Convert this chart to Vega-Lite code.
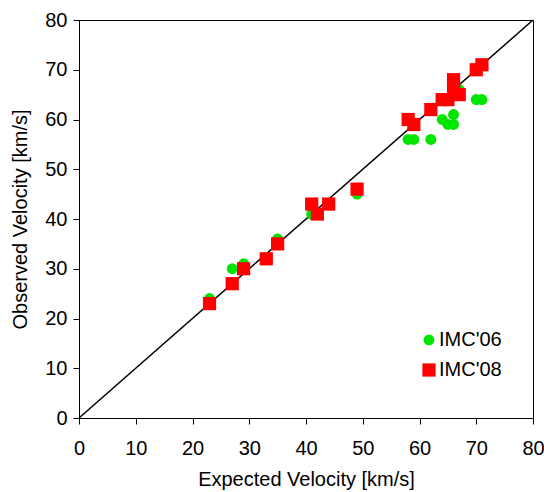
{
  "$schema": "https://vega.github.io/schema/vega-lite/v6.json",
  "width": 454,
  "height": 398,
  "autosize": {"type": "none"},
  "padding": {"left": 79, "top": 20, "right": 11, "bottom": 74},
  "background": "white",
  "config": {
    "view": {"stroke": "black", "strokeWidth": 1},
    "font": "Liberation Sans",
    "axis": {
      "grid": false,
      "domainColor": "black",
      "tickColor": "black",
      "tickSize": 6,
      "labelFontSize": 20,
      "labelColor": "black",
      "titleFontSize": 20,
      "titleFontWeight": "normal",
      "titleColor": "black",
      "labelFont": "Liberation Sans",
      "titleFont": "Liberation Sans",
      "labelFlush": false,
      "labelOverlap": false
    },
    "legend": {"labelFont": "Liberation Sans"}
  },
  "datasets": {
    "pts": [
      {"series": "IMC'06", "expected": 23, "observed": 24},
      {"series": "IMC'06", "expected": 27, "observed": 30},
      {"series": "IMC'06", "expected": 29, "observed": 31},
      {"series": "IMC'06", "expected": 35, "observed": 36},
      {"series": "IMC'06", "expected": 41, "observed": 41},
      {"series": "IMC'06", "expected": 49, "observed": 45},
      {"series": "IMC'06", "expected": 58, "observed": 56},
      {"series": "IMC'06", "expected": 59, "observed": 56},
      {"series": "IMC'06", "expected": 62, "observed": 56},
      {"series": "IMC'06", "expected": 64, "observed": 60},
      {"series": "IMC'06", "expected": 65, "observed": 59},
      {"series": "IMC'06", "expected": 66, "observed": 59},
      {"series": "IMC'06", "expected": 66, "observed": 61},
      {"series": "IMC'06", "expected": 67, "observed": 66},
      {"series": "IMC'06", "expected": 70, "observed": 64},
      {"series": "IMC'06", "expected": 71, "observed": 64},
      {"series": "IMC'08", "expected": 23, "observed": 23},
      {"series": "IMC'08", "expected": 27, "observed": 27},
      {"series": "IMC'08", "expected": 29, "observed": 30},
      {"series": "IMC'08", "expected": 33, "observed": 32},
      {"series": "IMC'08", "expected": 35, "observed": 35},
      {"series": "IMC'08", "expected": 41, "observed": 43},
      {"series": "IMC'08", "expected": 42, "observed": 41},
      {"series": "IMC'08", "expected": 44, "observed": 43},
      {"series": "IMC'08", "expected": 49, "observed": 46},
      {"series": "IMC'08", "expected": 58, "observed": 60},
      {"series": "IMC'08", "expected": 59, "observed": 59},
      {"series": "IMC'08", "expected": 62, "observed": 62},
      {"series": "IMC'08", "expected": 64, "observed": 64},
      {"series": "IMC'08", "expected": 65, "observed": 64},
      {"series": "IMC'08", "expected": 66, "observed": 66},
      {"series": "IMC'08", "expected": 66, "observed": 68},
      {"series": "IMC'08", "expected": 67, "observed": 65},
      {"series": "IMC'08", "expected": 70, "observed": 70},
      {"series": "IMC'08", "expected": 71, "observed": 71}
    ],
    "diag": [{"x0": 0, "y0": 0, "x1": 80, "y1": 80}]
  },
  "layer": [
    {
      "data": {"name": "diag"},
      "mark": {"type": "rule", "color": "black", "strokeWidth": 1.5},
      "encoding": {
        "x": {"field": "x0", "type": "quantitative", "scale": {"domain": [0, 80]}},
        "y": {"field": "y0", "type": "quantitative", "scale": {"domain": [0, 80]}},
        "x2": {"field": "x1"},
        "y2": {"field": "y1"}
      }
    },
    {
      "data": {"name": "pts"},
      "mark": {"type": "point", "filled": true, "opacity": 1, "strokeWidth": 0},
      "encoding": {
        "x": {
          "field": "expected", "type": "quantitative",
          "scale": {"domain": [0, 80], "nice": false},
          "axis": {"values": [0, 10, 20, 30, 40, 50, 60, 70, 80], "title": "Expected Velocity [km/s]", "titlePadding": 11, "labelPadding": 14}
        },
        "y": {
          "field": "observed", "type": "quantitative",
          "scale": {"domain": [0, 80], "nice": false},
          "axis": {"values": [0, 10, 20, 30, 40, 50, 60, 70, 80], "title": "Observed Velocity [km/s]", "titlePadding": 14, "labelPadding": 6}
        },
        "color": {
          "field": "series", "type": "nominal",
          "scale": {"domain": ["IMC'06", "IMC'08"], "range": ["#00e600", "#ff0000"]},
          "legend": {
            "title": null, "orient": "none", "legendX": 340, "legendY": 310,
            "labelFontSize": 20, "labelColor": "black", "symbolSize": 140,
            "rowPadding": 10, "labelOffset": 0, "symbolStrokeWidth": 0
          }
        },
        "shape": {
          "field": "series", "type": "nominal",
          "scale": {"domain": ["IMC'06", "IMC'08"], "range": ["circle", "square"]}
        },
        "size": {
          "field": "series", "type": "nominal",
          "scale": {"domain": ["IMC'06", "IMC'08"], "range": [120, 175]},
          "legend": null
        }
      }
    }
  ]
}
